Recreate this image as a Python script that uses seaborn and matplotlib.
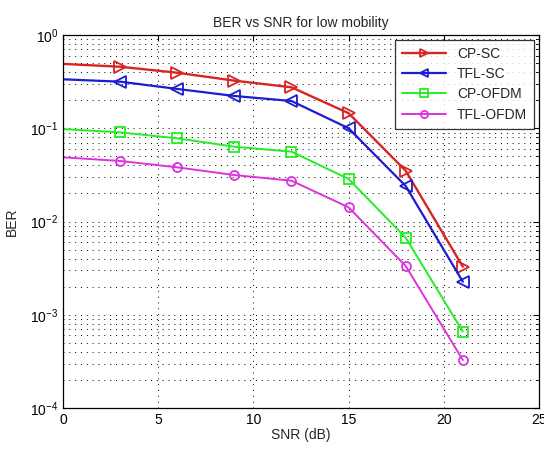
import numpy as np
import pandas as pd
import matplotlib
matplotlib.use("Agg")
import matplotlib.pyplot as plt
import seaborn as sns
from matplotlib.ticker import LogLocator, MultipleLocator, NullFormatter

snr_db = [0, 3, 6, 9, 12, 15, 18, 21]

ber_cp_sc = [0.49, 0.457, 0.394, 0.324, 0.275, 0.145, 0.035, 0.00328]
ber_tfl_sc = [0.335, 0.316, 0.264, 0.222, 0.196, 0.100, 0.024, 0.00226]
ber_cp_ofdm = [0.098, 0.0904, 0.078, 0.0634, 0.0561, 0.0286, 0.0067, 0.00066]
ber_tfl_ofdm = [0.0488, 0.0446, 0.0381, 0.0315, 0.0274, 0.0142, 0.00333, 0.000327]

series_names = ["CP-SC", "TFL-SC", "CP-OFDM", "TFL-OFDM"]
series_values = [ber_cp_sc, ber_tfl_sc, ber_cp_ofdm, ber_tfl_ofdm]

# matlab-ish look
styles = {
    "CP-SC": dict(color="#d82424", marker=">", lw=1.7, ms=8),
    "TFL-SC": dict(color="#1c1cd0", marker="<", lw=1.6, ms=8),
    "CP-OFDM": dict(color="#22ee22", marker="s", lw=1.4, ms=7),
    "TFL-OFDM": dict(color="#dd33dd", marker="o", lw=1.4, ms=6.5),
}

sns.set_style("white")
plt.rcParams["font.family"] = ["Liberation Sans", "DejaVu Sans"]
plt.rcParams["mathtext.default"] = "regular"

fig = plt.figure(figsize=(5.44, 4.5), dpi=100)
ax = fig.add_axes([0.1158, 0.0933, 0.875, 0.8289])

for name, vals in zip(series_names, series_values):
    st = styles[name]
    df = pd.DataFrame({"snr": snr_db, "ber": vals})
    sns.lineplot(
        data=df, x="snr", y="ber", ax=ax,
        color=st["color"], linewidth=st["lw"],
        marker=st["marker"], markersize=st["ms"],
        markerfacecolor="none", markeredgecolor=st["color"],
        markeredgewidth=1.3, markevery=slice(1, None),
        label=name,
    )

ax.set_yscale("log")
ax.set_xlim(0, 25)
ax.set_ylim(1e-4, 1)
ax.xaxis.set_major_locator(MultipleLocator(5))
ax.yaxis.set_major_locator(LogLocator(base=10, numticks=10))
ax.yaxis.set_minor_locator(LogLocator(base=10, subs=np.arange(2, 10), numticks=20))
ax.yaxis.set_minor_formatter(NullFormatter())

dots = (0, (1, 5))
ax.grid(True, which="major", color="black", linestyle=dots, linewidth=0.7)
ax.grid(True, which="minor", axis="y", color="black", linestyle=dots, linewidth=0.7)

ax.tick_params(which="both", direction="in", top=True, right=True, labelsize=10, colors="black")
ax.tick_params(which="major", length=4)
ax.tick_params(which="minor", length=2)
for sp in ax.spines.values():
    sp.set_color("black")
    sp.set_linewidth(0.9)

ax.set_xlabel("SNR (dB)", fontsize=10, labelpad=1)
ax.set_ylabel("BER", fontsize=10, labelpad=8)
ax.set_title("BER vs SNR for low mobility", fontsize=10, pad=6)

leg = ax.legend(loc="upper right", fontsize=10, handlelength=3.2, frameon=True,
                fancybox=False, borderaxespad=0.35, labelspacing=0.45, borderpad=0.5,
                markerscale=0.8)
leg.get_frame().set_edgecolor("black")
leg.get_frame().set_linewidth(0.9)

fig.savefig("out.png", dpi=100)
